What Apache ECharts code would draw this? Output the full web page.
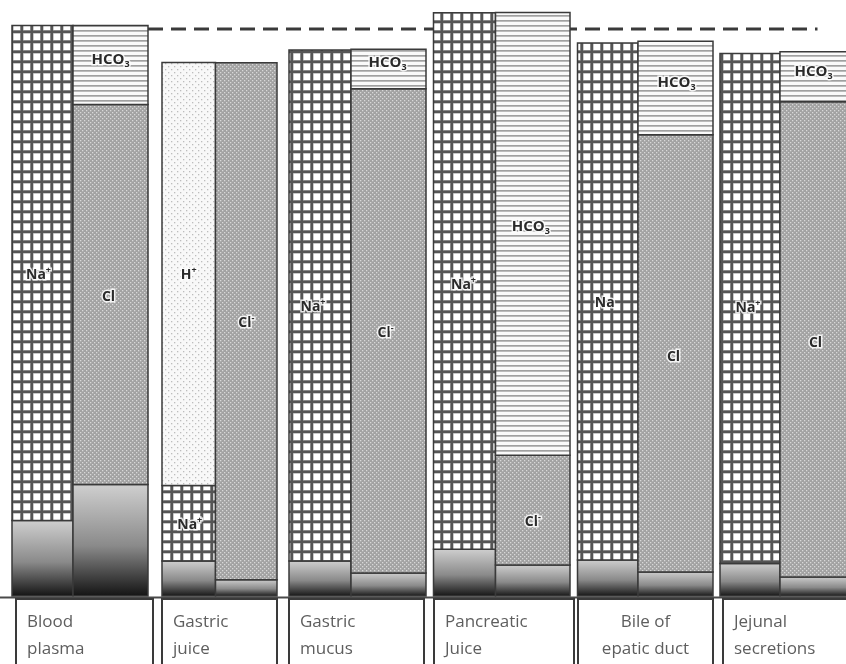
<!DOCTYPE html>
<html><head><meta charset="utf-8">
<script src="https://cdn.jsdelivr.net/npm/echarts@6/dist/echarts.min.js"></script>
<style>html,body{margin:0;padding:0;background:#fff}#c{width:846px;height:664px}</style>
</head><body><div id="c"></div>
<script>
// ---- data (mEq/L) ----
const categories = ['Blood\nplasma', 'Gastric\njuice', 'Gastric\nmucus', 'Pancreatic\nJuice', 'Bile of\nepatic duct', 'Jejunal\nsecretions'];
const otherCations = [21, 9.7, 9.7, 13, 10, 9];
const sodium       = [137.5, 21, 142, 149, 143.6, 141.7];
const hydrogen     = [0, 117.5, 0, 0, 0, 0];
const otherAnions  = [31, 4.5, 6.4, 8.6, 6.7, 5.3];
const chloride     = [105.5, 143.6, 134.5, 30.5, 121.4, 132];
const bicarbonate  = [22, 0, 11, 123, 26, 13.9];
const plasmaLevel  = 157.5;
const sodiumText   = ['Na+', 'Na+', 'Na+', 'Na+', 'Na', 'Na+'];
const chlorideText = ['Cl', 'Cl-', 'Cl-', 'Cl-', 'Cl', 'Cl'];
const hydrogenText = 'H+';
const bicarbText   = 'HCO3';

// ---- layout (pixels relative to group centre) ----
const barEdges = [[-68, -7, 68], [-59.5, -6, 55.5], [-74, -12, 63], [-71, -9, 65.5], [-68.5, -8, 67], [-67.5, -7.5, 67.5]];
const boxEdges = [[-64, 73], [-59.5, 55.5], [-74, 61], [-70.5, 69.5], [-68, 67], [-64.5, 67.5]];
const labelY = { na: [89.2, 19.7, 80.3, 86.4, 81.4, 80], h: [89.2], cl: [83, 75.8, 73, 20.6, 66.4, 70.3], hco3: [149, null, 148, 102.5, 142.5, 145.6] };
const labelDx = { na: [-4, 1, -7, -1, -3, -2], cl: [-2, 0, -3, 0, -2, -2], hco3: [0, 0, -1, -2, 1, -4] };
const groupPitch = 141.5, firstCentre = 80, chartWidth = 846;

function pat(w, h, draw) {
  const c = document.createElement('canvas'); c.width = w; c.height = h;
  draw(c.getContext('2d')); return { image: c, repeat: 'repeat' };
}
const fills = {
  na: pat(10, 10, g => { g.fillStyle = '#fff'; g.fillRect(0, 0, 10, 10); g.fillStyle = '#a8a8a8'; g.fillRect(0, 0, 10, 3.6); g.fillRect(0, 0, 3.6, 10); g.fillStyle = '#555'; g.fillRect(0, 0.6, 10, 2.4); g.fillRect(0.6, 0, 2.4, 10); }),
  h: pat(6, 6, g => { g.fillStyle = '#f8f8f8'; g.fillRect(0, 0, 6, 6); g.fillStyle = '#bdbdbd'; g.fillRect(0, 0, 1.3, 1.3); g.fillRect(3, 3, 1.3, 1.3); }),
  hco3: pat(6, 5, g => { g.fillStyle = '#fafafa'; g.fillRect(0, 0, 6, 5); g.fillStyle = '#a0a0a0'; g.fillRect(0, 0, 6, 1.7); }),
  cl: pat(4, 4, g => { g.fillStyle = '#a2a2a2'; g.fillRect(0, 0, 4, 4); g.fillStyle = '#d8d8d8'; g.fillRect(0, 0, 1.3, 1.3); g.fillRect(2, 2, 1.3, 1.3); }),
  other: { type: 'linear', x: 0, y: 0, x2: 0, y2: 1, colorStops: [{ offset: 0, color: '#d0d0d0' }, { offset: 0.55, color: '#8a8a8a' }, { offset: 1, color: '#121212' }] }
};

// ---- build stacked segments ----
const segData = [], segKind = [];
function addStack(i, side, parts) {
  let acc = 0;
  parts.forEach(([v, kind]) => { if (v > 0) { segData.push([i, side, acc, acc + v]); segKind.push(kind); acc += v; } });
}
categories.forEach((_, i) => {
  addStack(i, 0, [[otherCations[i], 'other'], [sodium[i], 'na'], [hydrogen[i], 'h']]);
  addStack(i, 1, [[otherAnions[i], 'other'], [chloride[i], 'cl'], [bicarbonate[i], 'hco3']]);
});

// ---- labels ----
const labData = [], labText = [];
function rich(t) {
  if (t === 'HCO3') return '{b|HCO}{sub|3}';
  const m = t.match(/^([A-Za-z]+)([+-]?)$/);
  return '{n|' + m[1] + '}' + (m[2] ? '{sup|' + (m[2] === '+' ? '+' : '-') + '}' : '');
}
categories.forEach((_, i) => {
  labData.push([i, 0, labelY.na[i], labelDx.na[i]]); labText.push(rich(sodiumText[i]));
  labData.push([i, 1, labelY.cl[i], labelDx.cl[i]]); labText.push(rich(chlorideText[i]));
  if (bicarbonate[i] > 0) { labData.push([i, 1, labelY.hco3[i], labelDx.hco3[i]]); labText.push(rich(bicarbText)); }
  if (hydrogen[i] > 0) { labData.push([i, 0, labelY.h[0], 0]); labText.push(rich(hydrogenText)); }
});

const richStyles = {
  n: { fontSize: 14, fontWeight: 'bold', fontFamily: 'Open Sans', fill: '#2a2a2a', lineHeight: 18 },
  b: { fontSize: 15, fontWeight: 'bold', fontFamily: 'Open Sans', fill: '#2a2a2a', lineHeight: 18 },
  sup: { fontSize: 9, fontWeight: 'bold', fontFamily: 'Open Sans', fill: '#2a2a2a', verticalAlign: 'top', lineHeight: 10 },
  sub: { fontSize: 9, fontWeight: 'bold', fontFamily: 'Open Sans', fill: '#2a2a2a', verticalAlign: 'bottom', lineHeight: 8 }
};

const xMin = -firstCentre / groupPitch;
const xMax = xMin + chartWidth / groupPitch;

const chart = echarts.init(document.getElementById('c'), null, { renderer: 'canvas' });
chart.setOption({
  animation: false,
  backgroundColor: '#fff',
  grid: { left: 0, right: 0, top: 2, bottom: 68 },
  xAxis: { type: 'value', min: xMin, max: xMax, show: false },
  yAxis: { type: 'value', min: 0, max: 165, show: false },
  series: [
    { // dashed plasma reference line
      type: 'custom', z: 1, data: [[0, plasmaLevel]], encode: { x: 0, y: 1 },
      renderItem: (p, api) => {
        const a = api.coord([0, api.value(1)]), b = api.coord([categories.length - 1, api.value(1)]);
        return { type: 'line', shape: { x1: a[0] + barEdges[0][2], y1: a[1], x2: b[0] + 30, y2: b[1] },
          style: { stroke: '#3a3a3a', lineWidth: 3, lineDash: [15, 8] } };
      }
    },
    { // stacked ion segments
      type: 'custom', z: 3, data: segData, encode: { x: 0, y: [2, 3] },
      renderItem: (p, api) => {
        const i = api.value(0), side = api.value(1);
        const cx = api.coord([i, 0])[0];
        const yb = api.coord([i, api.value(2)])[1], yt = api.coord([i, api.value(3)])[1];
        const e = barEdges[i];
        const x0 = cx + (side ? e[1] : e[0]), x1 = cx + (side ? e[2] : e[1]);
        return { type: 'rect', shape: { x: x0, y: yt, width: x1 - x0, height: yb - yt },
          style: { fill: fills[segKind[p.dataIndex]], stroke: '#3a3a3a', lineWidth: 1.5 } };
      }
    },
    { // ion labels
      type: 'custom', z: 5, data: labData, encode: { x: 0, y: 2 },
      renderItem: (p, api) => {
        const i = api.value(0), side = api.value(1);
        const c = api.coord([i, api.value(2)]);
        const e = barEdges[i];
        const mid = side ? (e[1] + e[2]) / 2 : (e[0] + e[1]) / 2;
        return { type: 'text', style: { x: c[0] + mid + api.value(3), y: c[1], text: labText[p.dataIndex], rich: richStyles,
          align: 'center', verticalAlign: 'middle', stroke: 'rgba(255,255,255,0.85)', lineWidth: 3 } };
      }
    },
    { // category boxes and baseline
      type: 'custom', z: 4, data: categories.map((_, i) => [i, 0]), encode: { x: 0, y: 1 },
      renderItem: (p, api) => {
        const i = api.value(0);
        const c = api.coord([i, 0]);
        const b = boxEdges[i];
        const x0 = c[0] + b[0], x1 = c[0] + b[1];
        const centred = i === 4;
        const children = [
          { type: 'rect', shape: { x: x0, y: c[1] + 3, width: x1 - x0, height: 80 },
            style: { fill: '#fff', stroke: '#3a3a3a', lineWidth: 2 } },
          { type: 'text', style: { x: centred ? (x0 + x1) / 2 : x0 + 11, y: c[1] + 12.5, text: categories[i],
            align: centred ? 'center' : 'left', verticalAlign: 'top', fontFamily: 'Open Sans', fontSize: 17,
            lineHeight: 27, fill: '#5e5e5e' } }
        ];
        if (i === 0) children.unshift({ type: 'line', shape: { x1: 0, y1: c[1] + 1.5, x2: chartWidth, y2: c[1] + 1.5 },
          style: { stroke: '#4a4a4a', lineWidth: 2 } });
        return { type: 'group', children };
      }
    }
  ]
});
</script></body></html>
